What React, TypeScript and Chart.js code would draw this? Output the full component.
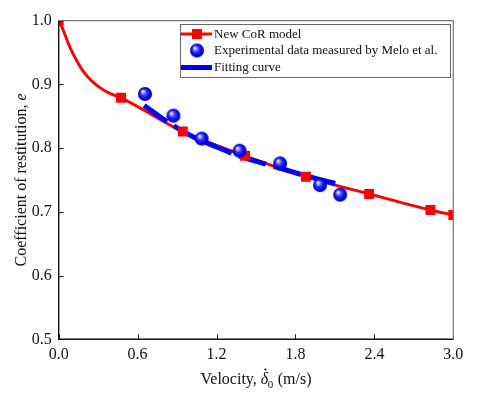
import React, { useEffect, useRef } from "react";
import { Chart, registerables } from "chart.js";

Chart.register(...registerables);

// Red model curve (dense trace)
const modelCurveV = [0, 0.017, 0.048, 0.086, 0.124, 0.175, 0.225, 0.3, 0.377, 0.474, 0.943, 1.417, 1.88, 2.36, 2.826, 3.0];
const modelCurveE = [1.0, 0.994, 0.978, 0.958, 0.942, 0.924, 0.911, 0.897, 0.887, 0.879, 0.826, 0.788, 0.755, 0.728, 0.703, 0.695];
// Red square markers
const modelMarkV = [0, 0.474, 0.943, 1.417, 1.88, 2.36, 2.826, 3.0];
const modelMarkE = [1.0, 0.879, 0.826, 0.788, 0.755, 0.728, 0.703, 0.695];
// Experimental data (Melo et al.)
const expV = [0.656, 0.872, 1.087, 1.375, 1.683, 1.987, 2.14];
const expE = [0.885, 0.851, 0.815, 0.796, 0.776, 0.742, 0.727];
// Fitting curve
const fitV = [0.65, 0.82, 1.02, 1.21, 1.38, 1.64, 1.89, 2.13];
const fitE = [0.867, 0.842, 0.818, 0.801, 0.787, 0.771, 0.756, 0.743];

const xTicks = [0, 0.6, 1.2, 1.8, 2.4, 3.0];
const yTicks = [0.5, 0.6, 0.7, 0.8, 0.9, 1.0];

const legendLabels = ["New CoR model", "Experimental data measured by Melo et al.", "Fitting curve"];

const SERIF = "'Liberation Serif', 'Times New Roman', serif";

function makeSphere(r: number): HTMLCanvasElement {
  const c = document.createElement("canvas");
  const s = Math.ceil(r * 2 + 2);
  c.width = s;
  c.height = s;
  const ctx = c.getContext("2d")!;
  const cx = s / 2, cy = s / 2;
  const g = ctx.createRadialGradient(cx - r * 0.35, cy - r * 0.4, 0, cx, cy, r);
  g.addColorStop(0, "#ffffff");
  g.addColorStop(0.15, "#c8c8ff");
  g.addColorStop(0.45, "#3535ff");
  g.addColorStop(0.8, "#0000e6");
  g.addColorStop(1, "#0000a8");
  ctx.fillStyle = g;
  ctx.beginPath();
  ctx.arc(cx, cy, r, 0, Math.PI * 2);
  ctx.fill();
  return c;
}

const pts = (xs: number[], ys: number[]) => xs.map((x, i) => ({ x, y: ys[i] }));

export default function App() {
  const ref = useRef<HTMLCanvasElement>(null);
  useEffect(() => {
    document.body.style.margin = "0";
    const sphere = makeSphere(7);
    const sphereLegend = makeSphere(7);

    const framePlugin = {
      id: "frame",
      afterDraw(chart: any) {
        const { ctx, chartArea: a, scales } = chart;
        const xs = scales.x, ys = scales.y;
        ctx.save();
        // inside ticks
        ctx.strokeStyle = "#222";
        ctx.lineWidth = 1;
        xTicks.forEach((t) => {
          const px = Math.round(xs.getPixelForValue(t)) + 0.5;
          ctx.beginPath();
          ctx.moveTo(px, a.bottom);
          ctx.lineTo(px, a.bottom - 5);
          ctx.stroke();
        });
        yTicks.forEach((t) => {
          const py = Math.round(ys.getPixelForValue(t)) + 0.5;
          ctx.beginPath();
          ctx.moveTo(a.left, py);
          ctx.lineTo(a.left + 5, py);
          ctx.stroke();
        });
        // frame
        ctx.strokeStyle = "#777";
        ctx.lineWidth = 1.2;
        ctx.beginPath();
        ctx.moveTo(a.left, a.top);
        ctx.lineTo(a.right, a.top);
        ctx.lineTo(a.right, a.bottom);
        ctx.stroke();
        ctx.strokeStyle = "#111";
        ctx.lineWidth = 1.4;
        ctx.beginPath();
        ctx.moveTo(a.left, a.top);
        ctx.lineTo(a.left, a.bottom);
        ctx.lineTo(a.right, a.bottom);
        ctx.stroke();

        // Axis titles
        ctx.fillStyle = "#111";
        ctx.textBaseline = "alphabetic";
        // y title
        ctx.save();
        ctx.translate(26, (a.top + a.bottom) / 2);
        ctx.rotate(-Math.PI / 2);
        const yPart1 = "Coefficient of restitution, ";
        const yPart2 = "e";
        ctx.font = `16px ${SERIF}`;
        const w1 = ctx.measureText(yPart1).width;
        ctx.font = `italic 16px ${SERIF}`;
        const w2 = ctx.measureText(yPart2).width;
        let sx = -(w1 + w2) / 2;
        ctx.font = `16px ${SERIF}`;
        ctx.fillText(yPart1, sx, 0);
        ctx.font = `italic 16px ${SERIF}`;
        ctx.fillText(yPart2, sx + w1, 0);
        ctx.restore();

        // x title
        const xa = "Velocity, ";
        const xd = "\u03B4";
        const xs0 = "0";
        const xb = " (m/s)";
        const base = 384;
        ctx.font = `16px ${SERIF}`;
        const wa = ctx.measureText(xa).width;
        const wb = ctx.measureText(xb).width;
        ctx.font = `italic 16px ${SERIF}`;
        const wd = ctx.measureText(xd).width;
        ctx.font = `11px ${SERIF}`;
        const ws = ctx.measureText(xs0).width;
        const total = wa + wd + ws + wb;
        let x0 = (a.left + a.right) / 2 - total / 2;
        ctx.font = `16px ${SERIF}`;
        ctx.fillText(xa, x0, base);
        x0 += wa;
        ctx.font = `italic 16px ${SERIF}`;
        ctx.fillText(xd, x0, base);
        // dot above delta
        ctx.beginPath();
        ctx.arc(x0 + wd * 0.62, base - 14.5, 1.1, 0, Math.PI * 2);
        ctx.fill();
        x0 += wd;
        ctx.font = `11px ${SERIF}`;
        ctx.fillText(xs0, x0 - 0.5, base + 3.5);
        x0 += ws;
        ctx.font = `16px ${SERIF}`;
        ctx.fillText(xb, x0, base);

        // Legend
        const lx = 180.5, ly = 24.5, lw = 270, lh = 53;
        ctx.fillStyle = "#fff";
        ctx.fillRect(lx, ly, lw, lh);
        ctx.strokeStyle = "#666";
        ctx.lineWidth = 1;
        ctx.strokeRect(lx, ly, lw, lh);
        const rows = [34, 50.5, 67.5];
        // row 1: red line with square
        ctx.strokeStyle = "#ff0000";
        ctx.lineWidth = 3;
        ctx.beginPath();
        ctx.moveTo(181, rows[0]);
        ctx.lineTo(212, rows[0]);
        ctx.stroke();
        ctx.fillStyle = "#ff0000";
        ctx.fillRect(197 - 5, rows[0] - 5, 10, 10);
        // row 2: sphere
        ctx.drawImage(sphereLegend, 197 - sphereLegend.width / 2, rows[1] - sphereLegend.height / 2);
        // row 3: blue line
        ctx.strokeStyle = "#0000ff";
        ctx.lineWidth = 5;
        ctx.beginPath();
        ctx.moveTo(181, rows[2]);
        ctx.lineTo(212, rows[2]);
        ctx.stroke();
        ctx.fillStyle = "#111";
        ctx.font = `13px ${SERIF}`;
        ctx.textBaseline = "middle";
        legendLabels.forEach((t, i) => ctx.fillText(t, 214, rows[i] + 0.5));
        ctx.restore();
      },
    };

    const chart = new Chart(ref.current!, {
      type: "scatter",
      data: {
        datasets: [
          {
            label: legendLabels[1],
            data: pts(expV, expE),
            pointStyle: sphere as any,
            pointRadius: 7,
            showLine: false,
            clip: 0,
          },
          {
            label: "markers",
            data: pts(modelMarkV, modelMarkE),
            pointStyle: "rect",
            pointRadius: 7,
            backgroundColor: "#ff0000",
            borderColor: "#ff0000",
            borderWidth: 0,
            showLine: false,
            clip: 0,
          },
          {
            label: legendLabels[2],
            data: pts(fitV, fitE),
            showLine: true,
            borderColor: "#0000ff",
            borderWidth: 5,
            borderDash: [28, 8],
            pointRadius: 0,
            cubicInterpolationMode: "monotone",
            clip: 0,
          },
          {
            label: legendLabels[0],
            data: pts(modelCurveV, modelCurveE),
            showLine: true,
            borderColor: "#ff0000",
            borderWidth: 3,
            pointRadius: 0,
            cubicInterpolationMode: "monotone",
            clip: 0,
          },
        ],
      },
      options: {
        animation: false,
        responsive: false,
        events: [],
        layout: { padding: { top: 20.7, right: 25.7, left: 0, bottom: 0 } },
        plugins: { legend: { display: false }, tooltip: { enabled: false } },
        scales: {
          x: {
            type: "linear",
            min: 0,
            max: 3,
            afterBuildTicks: (s: any) => {
              s.ticks = xTicks.map((v) => ({ value: v }));
            },
            afterFit: (s: any) => {
              s.height = 57.7;
            },
            ticks: {
              callback: (v: any) => Number(v).toFixed(1),
              font: { family: SERIF, size: 16 },
              color: "#111",
              padding: 6,
              maxRotation: 0,
              autoSkip: false,
            },
            grid: { display: false, drawTicks: false },
            border: { display: false },
          },
          y: {
            type: "linear",
            min: 0.5,
            max: 1.0,
            afterBuildTicks: (s: any) => {
              s.ticks = yTicks.map((v) => ({ value: v }));
            },
            afterFit: (s: any) => {
              s.width = 58.7;
            },
            ticks: {
              callback: (v: any) => Number(v).toFixed(1),
              font: { family: SERIF, size: 16 },
              color: "#111",
              padding: 7,
              autoSkip: false,
            },
            grid: { display: false, drawTicks: false },
            border: { display: false },
          },
        },
      },
      plugins: [framePlugin],
    } as any);
    return () => chart.destroy();
  }, []);
  return (
    <div style={{ width: 479, height: 397 }}>
      <canvas ref={ref} width={479} height={397} style={{ display: "block" }} />
    </div>
  );
}
